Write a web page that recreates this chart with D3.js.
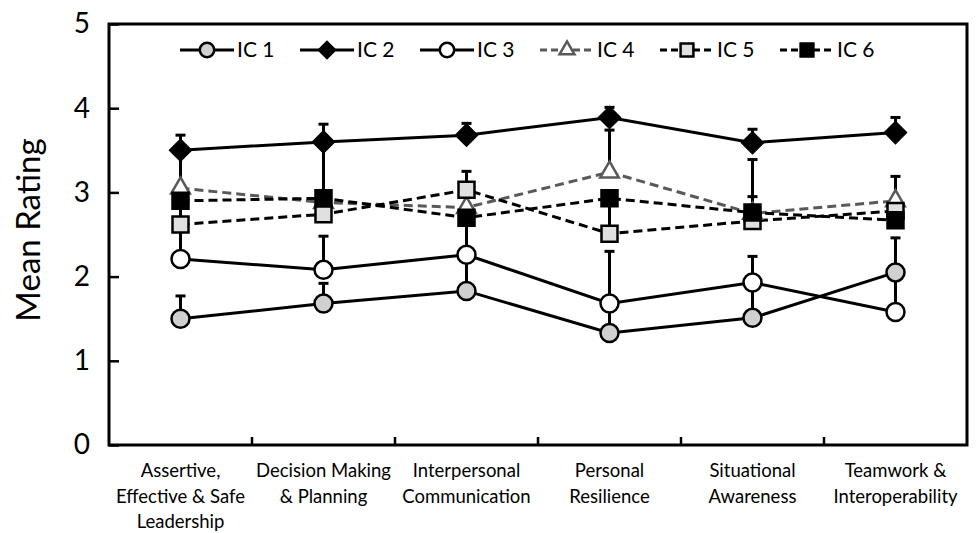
<!DOCTYPE html>
<html>
<head>
<meta charset="utf-8">
<script src="https://cdn.jsdelivr.net/npm/d3@7"></script>
<style>
  body { margin: 0; background: #fff; }
  svg { display: block; font-family: Lato, "Open Sans", sans-serif; }
</style>
</head>
<body>
<svg id="chart" width="978" height="533"></svg>
<script>
// categories, each label split into its printed lines
const categories = ["Assertive", "Decision", "Interpersonal", "Personal", "Situational", "Teamwork"];
const categoryLines = [
  ["Assertive,", "Effective & Safe", "Leadership"],
  ["Decision Making", "& Planning"],
  ["Interpersonal", "Communication"],
  ["Personal", "Resilience"],
  ["Situational", "Awareness"],
  ["Teamwork &", "Interoperability"]
];
const yTicks = [0, 1, 2, 3, 4, 5];

// mean ratings
const ic1 = [1.50, 1.68, 1.83, 1.33, 1.51, 2.05];
const ic2 = [3.50, 3.60, 3.68, 3.89, 3.59, 3.71];
const ic3 = [2.21, 2.08, 2.26, 1.68, 1.93, 1.58];
const ic4 = [3.05, 2.88, 2.82, 3.24, 2.75, 2.90];
const ic5 = [2.62, 2.74, 3.03, 2.51, 2.66, 2.78];
const ic6 = [2.90, 2.93, 2.70, 2.93, 2.76, 2.67];

// top of the (plus only) error bars, null = none
const ic1Hi = [1.77, 1.92, 2.22, 1.65, 1.90, 2.46];
const ic2Hi = [3.68, 3.81, 3.82, 4.01, 3.75, 3.89];
const ic3Hi = [2.58, 2.48, 2.66, 2.30, 2.24, 2.02];
const ic4Hi = [3.47, 3.57, null, 3.74, 3.39, 3.19];
const ic5Hi = [2.88, null, 3.25, 2.90, null, null];
const ic6Hi = [null, null, null, null, 2.95, null];

const seriesNames = ["IC 1", "IC 2", "IC 3", "IC 4", "IC 5", "IC 6"];

const series = [
  { name: seriesNames[0], values: ic1, hi: ic1Hi, shape: "circle",   fill: "#d0d0d0", stroke: "#000",    line: "#000",    dash: null },
  { name: seriesNames[1], values: ic2, hi: ic2Hi, shape: "diamond",  fill: "#000",    stroke: "#000",    line: "#000",    dash: null },
  { name: seriesNames[2], values: ic3, hi: ic3Hi, shape: "circle",   fill: "#fff",    stroke: "#000",    line: "#000",    dash: null },
  { name: seriesNames[3], values: ic4, hi: ic4Hi, shape: "triangle", fill: "#fff",    stroke: "#595959", line: "#595959", dash: "9,5" },
  { name: seriesNames[4], values: ic5, hi: ic5Hi, shape: "square",   fill: "#e0e0e0", stroke: "#000",    line: "#000",    dash: "9,5" },
  { name: seriesNames[5], values: ic6, hi: ic6Hi, shape: "square",   fill: "#000",    stroke: "#000",    line: "#000",    dash: "9,5" }
];

const svg = d3.select("#chart");
const plotL = 109, plotR = 967, plotT = 24, plotB = 445;

const x = d3.scaleBand().domain(categories).range([plotL, plotR]).padding(0);
const y = d3.scaleLinear().domain([0, 5]).range([plotB, plotT]);
const cx = i => x(categories[i]) + x.bandwidth() / 2;

// plot frame
svg.append("rect")
  .attr("x", plotL).attr("y", plotT)
  .attr("width", plotR - plotL).attr("height", plotB - plotT)
  .attr("fill", "none").attr("stroke", "#000").attr("stroke-width", 3);

// y axis, ticks pointing inwards
const yAx = svg.append("g")
  .attr("transform", `translate(${plotL},0)`)
  .call(d3.axisLeft(y).tickValues(yTicks).tickFormat(d3.format("d")).tickSize(-10).tickPadding(19));
yAx.select(".domain").remove();
yAx.selectAll(".tick line").attr("stroke-width", 2.5);
yAx.selectAll(".tick text").attr("font-size", 28).attr("font-family", "Lato").attr("fill", "#000");

// x axis: ticks between categories
const xAx = svg.append("g")
  .attr("transform", `translate(0,${plotB})`)
  .call(d3.axisBottom(x).tickSize(0).tickFormat(""));
xAx.select(".domain").remove();
svg.append("g").selectAll("line")
  .data(categories.slice(1))
  .enter().append("line")
  .attr("x1", d => x(d)).attr("x2", d => x(d))
  .attr("y1", plotB).attr("y2", plotB - 8)
  .attr("stroke", "#000").attr("stroke-width", 2.5);

svg.append("g").selectAll("text")
  .data(categoryLines)
  .enter().append("text")
  .attr("text-anchor", "middle")
  .attr("font-size", 18.5)
  .attr("fill", "#000")
  .each(function (lines, i) {
    d3.select(this).selectAll("tspan")
      .data(lines)
      .enter().append("tspan")
      .attr("x", cx(i))
      .attr("y", (d, j) => 477 + j * 25.5)
      .text(d => d);
  });

// y title
svg.append("text")
  .attr("transform", "translate(40,230) rotate(-90)")
  .attr("text-anchor", "middle")
  .attr("font-size", 33)
  .attr("fill", "#000")
  .text("Mean Rating");

// marker drawing
function marker(sel, s, scale) {
  const k = scale || 1;
  if (s.shape === "circle") {
    sel.append("circle").attr("r", 9 * k)
      .attr("fill", s.fill).attr("stroke", s.stroke).attr("stroke-width", 2.5);
  } else if (s.shape === "diamond") {
    sel.append("path").attr("d", d3.symbol(d3.symbolSquare, 256 * k * k)())
      .attr("transform", "rotate(45)")
      .attr("fill", s.fill).attr("stroke", s.stroke).attr("stroke-width", 1);
  } else if (s.shape === "square") {
    sel.append("path").attr("d", d3.symbol(d3.symbolSquare, 256 * k * k)())
      .attr("fill", s.fill).attr("stroke", s.stroke).attr("stroke-width", 2.5);
  } else {
    sel.append("path").attr("d", d3.symbol(d3.symbolTriangle, 150 * k * k)())
      .attr("fill", s.fill).attr("stroke", s.stroke).attr("stroke-width", 2.5);
  }
}

const line = d3.line().x((d, i) => cx(i)).y(d => y(d));

// lines
svg.append("g").selectAll("path")
  .data(series)
  .enter().append("path")
  .attr("d", s => line(s.values))
  .attr("fill", "none")
  .attr("stroke", s => s.line)
  .attr("stroke-width", 3)
  .attr("stroke-dasharray", s => s.dash);

// error bars
const eb = svg.append("g");
series.forEach(s => {
  s.hi.forEach((h, i) => {
    if (h == null) return;
    eb.append("line")
      .attr("x1", cx(i)).attr("x2", cx(i))
      .attr("y1", y(s.values[i])).attr("y2", y(h))
      .attr("stroke", "#000").attr("stroke-width", 3);
    eb.append("line")
      .attr("x1", cx(i) - 5).attr("x2", cx(i) + 5)
      .attr("y1", y(h)).attr("y2", y(h))
      .attr("stroke", "#000").attr("stroke-width", 3);
  });
});

// markers
series.forEach(s => {
  svg.append("g").selectAll("g")
    .data(s.values)
    .enter().append("g")
    .attr("transform", (d, i) => `translate(${cx(i)},${y(d)})`)
    .each(function () { marker(d3.select(this), s); });
});

// legend
const legend = svg.append("g").attr("transform", "translate(180,50)");
series.forEach((s, i) => {
  const g = legend.append("g").attr("transform", `translate(${i * 120},0)`);
  g.append("line").attr("x1", 0).attr("x2", 54).attr("y1", 0).attr("y2", 0)
    .attr("stroke", s.line).attr("stroke-width", 3)
    .attr("stroke-dasharray", s.dash ? "7,4" : null);
  const m = g.append("g").attr("transform", "translate(27,0)");
  marker(m, s, 0.8);
  g.append("text").attr("x", 57).attr("y", 7)
    .attr("font-size", 21).attr("fill", "#000")
    .text(s.name);
});
</script>
</body>
</html>
